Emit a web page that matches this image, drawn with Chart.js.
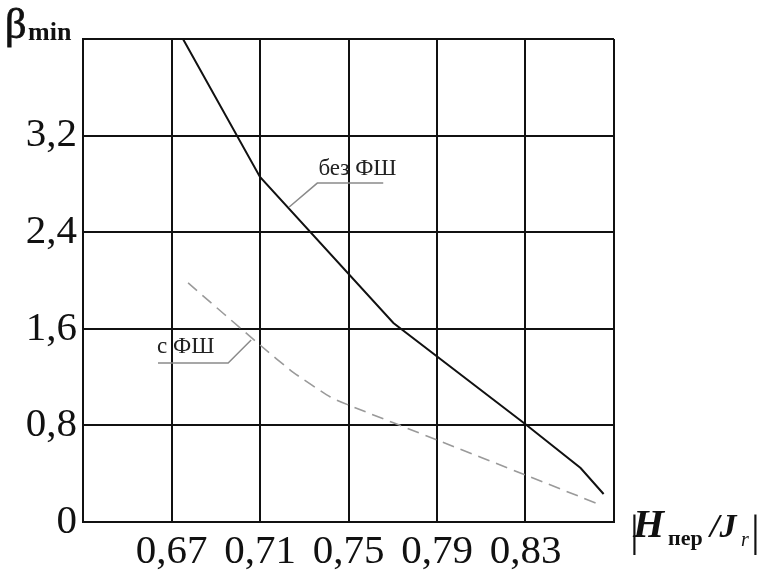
<!DOCTYPE html>
<html>
<head>
<meta charset="utf-8">
<script src="https://cdn.jsdelivr.net/npm/chart.js@4.4.1/dist/chart.umd.min.js"></script>
<style>
  html, body { margin: 0; padding: 0; background: #fff; }
  #wrap { width: 770px; height: 581px; }
</style>
</head>
<body>
<div id="wrap"><canvas id="c" width="770" height="581"></canvas></div>
<script>
// ---- data ----
const xTicks = [0.63, 0.67, 0.71, 0.75, 0.79, 0.83, 0.87];
const xTickLabels = ['', '0,67', '0,71', '0,75', '0,79', '0,83', ''];
const yTicks = [0, 0.8, 1.6, 2.4, 3.2, 4.0];
const yTickLabels = ['0', '0,8', '1,6', '2,4', '3,2', ''];

// curve "без ФШ" (solid)
const xNoFSh = [0.6752, 0.71, 0.7703, 0.83, 0.8549, 0.8653];
const yNoFSh = [4.0, 2.857, 1.648, 0.81, 0.447, 0.232];
// curve "с ФШ" (dashed)
const xFSh = [0.6775, 0.71, 0.725, 0.7418, 0.75, 0.79, 0.83, 0.864];
const yFSh = [1.98, 1.466, 1.24, 1.035, 0.969, 0.679, 0.389, 0.141];

// callout labels (anchor on curve, elbow, end of underline, text position) in data units
const callouts = [
  { text: 'без ФШ', pts: [[0.7232, 2.609], [0.7359, 2.807], [0.7657, 2.807]], textAt: [0.7364, 2.874] },
  { text: 'с ФШ',   pts: [[0.7060, 1.507], [0.6956, 1.317], [0.6639, 1.317]], textAt: [0.6635, 1.40] }
];

const toPts = (xs, ys) => xs.map((x, i) => ({ x: x, y: ys[i] }));

const serif = '"Liberation Serif", "Times New Roman", serif';

const decor = {
  id: 'decor',
  afterDatasetsDraw(chart) {
    const ctx = chart.ctx;
    const xs = chart.scales.x, ys = chart.scales.y;
    const ca = chart.chartArea;
    ctx.save();
    // callouts
    callouts.forEach(c => {
      ctx.beginPath();
      c.pts.forEach((p, i) => {
        const px = xs.getPixelForValue(p[0]), py = ys.getPixelForValue(p[1]);
        if (i === 0) ctx.moveTo(px, py); else ctx.lineTo(px, py);
      });
      ctx.strokeStyle = '#8a8a8a';
      ctx.lineWidth = 1.5;
      ctx.stroke();
      ctx.fillStyle = '#222';
      ctx.font = '23px ' + serif;
      ctx.textAlign = 'left';
      ctx.textBaseline = 'alphabetic';
      ctx.fillText(c.text, xs.getPixelForValue(c.textAt[0]), ys.getPixelForValue(c.textAt[1]));
    });
    // y-axis title: β min
    ctx.fillStyle = '#111';
    ctx.textAlign = 'left';
    ctx.textBaseline = 'alphabetic';
    ctx.font = '42px ' + serif;
    ctx.fillText('β', ca.left - 78, ca.top - 1);
    ctx.lineWidth = 0.8;
    ctx.strokeStyle = '#111';
    ctx.strokeText('β', ca.left - 78, ca.top - 1);
    ctx.font = 'bold 26px ' + serif;
    ctx.fillText('min', ca.left - 55, ca.top + 1);
    // x-axis title: |Hпер /Jr|
    const bx = ca.right + 16;
    const by = ca.bottom + 15;
    ctx.font = '44px ' + serif;
    ctx.fillText('|', bx, by + 9);
    ctx.font = 'italic bold 40px ' + serif;
    ctx.fillText('H', bx + 3, by);
    ctx.font = 'bold 22px ' + serif;
    ctx.fillText('пер', bx + 38, by + 8);
    ctx.font = 'italic bold 34px ' + serif;
    ctx.fillText('/J', bx + 80, by);
    ctx.font = 'italic 20px ' + serif;
    ctx.fillText('r', bx + 111, by + 9);
    ctx.font = '44px ' + serif;
    ctx.fillText('|', bx + 121, by + 9);
    ctx.restore();
  }
};

new Chart(document.getElementById('c'), {
  type: 'scatter',
  data: {
    datasets: [
      {
        label: 'без ФШ',
        data: toPts(xNoFSh, yNoFSh),
        showLine: true,
        borderColor: '#111',
        borderWidth: 2,
        pointRadius: 0,
        tension: 0,
        clip: false
      },
      {
        label: 'с ФШ',
        data: toPts(xFSh, yFSh),
        showLine: true,
        borderColor: '#9a9a9a',
        borderWidth: 1.6,
        borderDash: [12, 7],
        pointRadius: 0,
        tension: 0.2,
        clip: false
      }
    ]
  },
  options: {
    responsive: false,
    animation: false,
    layout: { padding: { left: 0, top: 39, right: 156, bottom: 0 } },
    plugins: { legend: { display: false }, tooltip: { enabled: false }, title: { display: false } },
    scales: {
      x: {
        type: 'linear',
        min: 0.63, max: 0.87,
        afterBuildTicks: s => { s.ticks = xTicks.map(v => ({ value: v })); },
        afterFit: s => { s.height = 59; },
        grid: { color: '#111', lineWidth: 2, drawTicks: false },
        border: { display: true, color: '#111', width: 2 },
        ticks: {
          autoSkip: false, maxRotation: 0, padding: 6,
          color: '#111',
          font: { family: serif, size: 41 },
          callback: (v, i) => xTickLabels[i]
        }
      },
      y: {
        type: 'linear',
        min: 0, max: 4.0,
        afterBuildTicks: s => { s.ticks = yTicks.map(v => ({ value: v })); },
        afterFit: s => { s.width = 83; },
        grid: { color: '#111', lineWidth: 2, drawTicks: false },
        border: { display: true, color: '#111', width: 2 },
        ticks: {
          autoSkip: false, padding: 6,
          color: '#111',
          font: { family: serif, size: 41 },
          callback: (v, i) => yTickLabels[i]
        }
      }
    }
  },
  plugins: [decor]
});
</script>
</body>
</html>
